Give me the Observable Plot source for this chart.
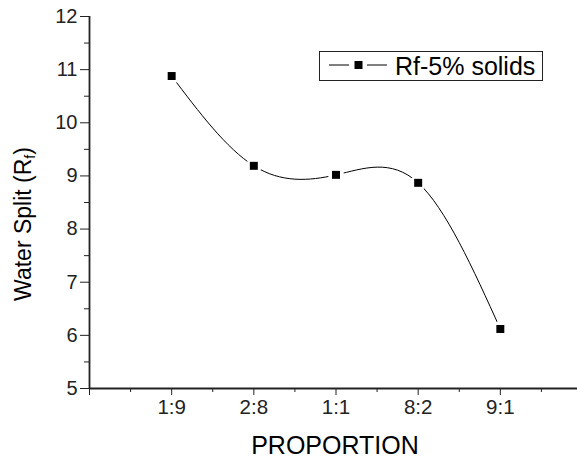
<!DOCTYPE html>
<html>
<head>
<meta charset="utf-8">
<script src="https://cdn.jsdelivr.net/npm/d3@7"></script>
<script src="https://cdn.jsdelivr.net/npm/@observablehq/plot@0.6"></script>
<style>
  html, body { margin: 0; padding: 0; background: #fff; }
  #wrap { position: relative; width: 577px; height: 459px; overflow: hidden; font-family: "Liberation Sans", Arial, sans-serif; color: #000; }
  #wrap svg { display: block; }
  .ytitle { position: absolute; left: 24px; top: 224px; transform: translate(-50%, -50%) rotate(-90deg); white-space: nowrap; font-size: 23px; line-height: 1; }
  .ytitle sub { font-size: 14px; vertical-align: -4px; }
  .xtitle { position: absolute; left: 335px; top: 445px; transform: translate(-50%, -50%); white-space: nowrap; font-size: 25px; line-height: 1; }
  .legend { position: absolute; left: 319px; top: 51px; width: 224px; height: 30px; box-sizing: border-box; border: 1px solid #222; background: #fff; }
  .legend svg { position: absolute; left: 0; top: 0; }
  .legend span { position: absolute; left: 75px; top: 2px; font-size: 25px; line-height: 1; white-space: nowrap; }
</style>
</head>
<body>
<div id="wrap"></div>
<script>
const categories = ["1:9", "2:8", "1:1", "8:2", "9:1"];
const waterSplit = [10.88, 9.19, 9.02, 8.87, 6.12];
const yTicks = [5, 6, 7, 8, 9, 10, 11, 12];
const seriesName = "Rf-5% solids";
const xTitle = "PROPORTION";

const data = categories.map((c, i) => ({pos: i + 1, cat: c, value: waterSplit[i]}));
const xMajor = d3.range(0, categories.length + 2);
const xMinor = xMajor.map(d => d + 0.5);
const yMinor = yTicks.slice(0, -1).map(d => d + 0.5);

const font = "Liberation Sans, Arial, sans-serif";

const chart = Plot.plot({
  width: 577,
  height: 459,
  marginLeft: 89,
  marginRight: 0,
  marginTop: 16,
  marginBottom: 71,
  style: {fontFamily: font, color: "#000", background: "#fff", overflow: "hidden"},
  x: {type: "linear", domain: [0, categories.length + 1], range: [89, 582]},
  y: {domain: [yTicks[0], yTicks[yTicks.length - 1]]},
  marks: [
    Plot.axisY({ticks: yTicks, tickSize: 9, tickPadding: 3, fontSize: 20, label: null, color: "#222", tickFormat: d => String(d)}),
    Plot.axisY({ticks: yMinor, tickSize: 5, text: null, label: null, color: "#222"}),
    Plot.axisX({ticks: xMajor, tickSize: 7, tickPadding: 4, fontSize: 20.5, label: null, color: "#222",
      tickFormat: d => categories[d - 1] ?? ""}),
    Plot.axisX({ticks: xMinor, tickSize: 4, text: null, label: null, color: "#222"}),
    Plot.ruleX([0], {stroke: "#222", strokeWidth: 1.8}),
    Plot.ruleY([yTicks[0]], {stroke: "#222", strokeWidth: 1.8}),
    Plot.line(data, {x: "pos", y: "value", curve: "natural", stroke: "#000", strokeWidth: 1}),
    Plot.dot(data, {x: "pos", y: "value", r: 8, fill: "#fff", stroke: null}),
    Plot.dot(data, {x: "pos", y: "value", symbol: "square", r: 4.5, fill: "#000", stroke: null})
  ]
});

const wrap = document.getElementById("wrap");
wrap.appendChild(chart);

const yt = document.createElement("div");
yt.className = "ytitle";
yt.innerHTML = "Water Split (R<sub>f</sub>)";
wrap.appendChild(yt);

const xt = document.createElement("div");
xt.className = "xtitle";
xt.textContent = xTitle;
wrap.appendChild(xt);

const lg = document.createElement("div");
lg.className = "legend";
lg.innerHTML = `<svg width="80" height="28">
  <line x1="9" x2="29" y1="13" y2="13" stroke="#000" stroke-width="1"/>
  <rect x="34.5" y="9" width="8" height="8" fill="#000"/>
  <line x1="47" x2="67" y1="13" y2="13" stroke="#000" stroke-width="1"/>
</svg><span></span>`;
lg.querySelector("span").textContent = seriesName;
wrap.appendChild(lg);
</script>
</body>
</html>
